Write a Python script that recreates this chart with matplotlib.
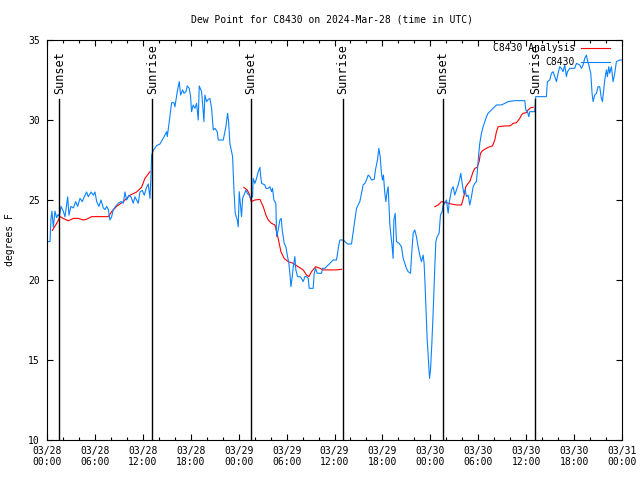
import numpy as np
import matplotlib
matplotlib.use("Agg")
import matplotlib.pyplot as plt
import matplotlib.transforms as mtransforms

plt.rcParams['font.family'] = ['DejaVu Sans Mono']
plt.rcParams['font.size'] = 7

# hours since 2024-03-28 00:00 UTC
obs_hours = [
    0.0, 0.38, 0.5, 0.62, 0.79, 1.0, 1.2, 1.4, 1.55, 1.75, 2.04, 2.25, 2.59, 2.75, 3.0, 3.3,
    3.59, 3.84, 4.13, 4.42, 4.67, 4.96, 5.17, 5.51, 5.8, 6.01, 6.22, 6.51, 6.76, 7.05, 7.26,
    7.47, 7.68, 7.88, 8.09, 8.3, 8.59, 8.93, 9.26, 9.55, 9.76, 9.97, 10.26, 10.51, 10.8,
    11.01, 11.22, 11.43, 11.64, 11.93, 12.18, 12.47, 12.68, 12.89, 13.02, 13.1, 13.31,
    13.73, 14.14, 14.43, 14.77,
    14.98, 15.06, 15.31, 15.6, 15.89, 16.02, 16.31, 16.56, 16.73, 16.98, 17.15, 17.4, 17.56,
    17.81, 17.98, 18.1, 18.31, 18.52, 18.73, 18.94, 19.06, 19.36, 19.48, 19.65, 19.77, 19.98,
    20.19, 20.4, 20.61, 20.82, 21.03, 21.32, 21.44, 22.07, 22.28, 22.4, 22.61, 22.74, 22.9,
    23.03, 23.24, 23.4, 23.57, 23.82, 23.95, 24.07, 24.24, 24.36, 24.49, 24.65, 24.91, 25.07,
    25.32, 25.49, 25.74, 25.82, 26.03, 26.24, 26.45, 26.66, 26.74, 26.87, 27.28, 27.41, 27.7,
    27.91, 28.12, 28.24, 28.41, 28.66, 28.75, 28.95, 29.08,
    29.16, 29.33, 29.45, 29.7, 29.91, 30.12, 30.29, 30.45, 30.54, 30.71, 30.83, 31.04, 31.16,
    31.37, 31.66, 31.87, 32.08, 32.29, 32.5, 32.71, 32.83, 33.33, 33.46, 33.63, 33.83, 34.38,
    34.5, 34.79, 35.0, 35.21, 35.42, 35.83, 36.25, 36.38, 36.54, 36.67, 37.09, 37.3, 37.63,
    38.13, 38.34, 38.55, 38.76, 38.97, 39.17, 39.38, 39.59, 39.8, 40.01, 40.22, 40.43, 40.63,
    40.97, 41.13, 41.38, 41.55, 41.72, 41.88, 42.01, 42.13, 42.3, 42.43, 42.59, 42.72, 42.93,
    43.22, 43.34,
    43.43, 43.6, 43.76, 44.1, 44.39, 44.6, 44.8, 45.01, 45.22, 45.52, 45.64, 45.85, 46.05,
    46.26, 46.47, 46.68, 46.89, 47.1, 47.22, 47.31, 47.43, 47.6, 47.77, 47.9, 48.02, 48.19,
    48.35, 48.56, 48.69, 48.85, 49.1, 49.27, 49.48, 49.6, 49.81, 50.02, 50.23, 50.35, 50.65,
    50.86, 51.06, 51.27, 51.48, 51.69, 51.81, 52.02, 52.19, 52.36, 52.52, 52.73, 52.94, 53.15,
    53.36, 53.57, 53.77, 53.9, 54.07, 54.19, 54.4, 54.61, 54.82, 55.03, 55.23, 55.65, 56.07,
    56.28, 56.9, 57.32, 57.74,
    58.57, 59.83, 59.95, 60.16, 60.33, 60.45, 61.07, 61.2, 62.53, 62.66, 62.95, 63.16, 63.37,
    63.58, 63.79, 64.0, 64.2, 64.41, 64.62, 64.83, 65.04, 65.17, 65.46, 66.08, 66.29, 66.71,
    66.92, 67.13, 67.33, 67.54, 67.67, 67.84, 68.09, 68.25, 68.38, 68.59, 68.8, 69.0, 69.21,
    69.42, 69.55, 69.71, 69.84, 70.05, 70.17, 70.34, 70.46, 70.67, 70.88, 71.09, 71.3, 71.71,
    72.0,
]
obs_dewpt = [
    22.4, 22.4, 23.85, 24.3, 23.3, 24.3, 23.9, 24.1, 23.95, 24.6, 24.3, 23.95, 25.2, 24.05, 24.6,
    24.5, 24.9, 24.6, 25.1, 24.9, 25.2, 25.5, 25.2, 25.5, 25.3, 25.5, 24.9, 24.6, 25.0, 24.5,
    24.4, 24.6, 24.4, 23.75, 23.95, 24.4, 24.6, 24.8, 24.9, 24.8, 25.5, 25.0, 25.3, 25.2, 24.8,
    25.2, 25.0, 24.8, 25.5, 25.6, 25.3, 25.8, 26.0, 25.1, 26.5, 27.8, 28.1, 28.4, 28.5, 28.75,
    29.06,
    29.27, 28.96, 29.9, 31.08, 31.08, 30.83, 31.77, 32.4, 31.56, 31.88, 31.67, 31.77, 32.13,
    31.98, 31.46, 30.52, 30.94, 30.73, 31.04, 30.0, 32.13, 31.77, 31.04, 29.9, 31.56, 31.15,
    31.29, 31.35, 30.73, 29.38, 29.48, 29.27, 28.75, 28.75, 29.27, 29.58, 30.42, 29.9, 28.54,
    28.23, 27.71, 25.73, 24.17, 23.75, 23.33, 25.52, 24.58, 23.96, 25.1, 25.3, 25.63, 25.42,
    25.3, 25.1, 25.2, 26.35, 26.04, 26.35, 26.77, 27.04, 26.56, 26.04, 25.94, 25.73, 25.73,
    25.83, 25.52, 25.73, 25.0, 24.79, 22.71, 23.13, 23.54,
    23.75, 23.85, 23.13, 22.29, 22.08, 21.46, 21.04, 20.21, 19.58, 20.21, 20.83, 21.46, 20.63,
    20.21, 20.21, 20.1, 19.9, 20.21, 20.21, 20.1, 19.48, 19.48, 20.42, 20.73, 20.42, 20.42,
    20.73, 20.73, 20.83, 20.94, 21.04, 21.25, 21.25, 21.67, 22.19, 22.5, 22.5, 22.4, 22.25,
    22.25, 23.02, 23.75, 24.48, 24.69, 24.9, 25.42, 25.94, 26.04, 26.25, 26.56, 26.46, 26.25,
    26.29, 26.88, 27.5, 28.23, 27.71, 26.67, 26.25, 26.56, 25.42, 24.9, 25.52, 25.83, 23.44,
    22.08, 21.35,
    23.75, 24.17, 22.4, 22.29, 22.08, 21.35, 21.04, 20.73, 20.52, 20.42, 21.46, 22.92, 23.13,
    22.71, 22.08, 21.56, 21.15, 21.56, 21.04, 20.1, 18.54, 16.35, 14.9, 13.85, 14.38, 16.04,
    17.92, 20.83, 22.4, 22.71, 22.92, 24.06, 24.27, 24.69, 24.79, 25.0, 24.17, 24.79, 25.63,
    25.83, 25.31, 25.63, 25.94, 26.35, 26.67, 25.94, 25.42, 25.63, 25.21, 25.31, 24.69, 25.21,
    25.83, 26.04, 26.15, 26.88, 27.92, 28.54, 29.17, 29.58, 29.9, 30.21, 30.42, 30.63, 30.83,
    30.94, 30.94, 31.04, 31.15,
    31.21, 31.21, 30.63, 30.52, 30.21, 30.52, 30.52, 31.46, 31.46, 32.4, 32.5, 32.92, 33.02,
    32.71, 32.4, 32.92, 33.33, 33.23, 33.02, 33.44, 32.71, 33.02, 33.23, 33.23, 33.54, 33.44,
    33.23, 33.44, 33.85, 34.06, 33.75, 33.44, 32.92, 31.67, 31.15, 31.56, 31.67, 32.08, 32.08,
    31.35, 31.15, 31.88, 32.5, 33.13, 32.71, 33.33, 32.92, 33.33, 32.4, 32.92, 33.65, 33.75,
    33.75,
]

# analysis series, three separate pieces (NaN breaks the line)
ana_hours = [
    0.67, 1.21, 1.63, 2.04, 2.67, 3.3, 3.92, 4.55, 4.96, 5.59, 7.68, 8.09, 8.72, 9.55, 10.39,
    11.22, 11.85, 12.26, 12.89, 12.95,
    24.65, 25.07, 25.32, 25.57, 26.03, 26.66, 27.08, 27.41, 27.7, 28.12, 28.54, 28.95, 29.29,
    29.7, 30.2, 30.83, 31.45, 32.08, 32.5, 32.79, 33.12, 33.63, 34.17, 34.58, 36.25, 36.88,
    36.9,
    48.56, 48.98, 49.39, 50.02, 50.65, 51.27, 51.9, 52.19, 52.44, 52.73, 52.94, 53.15, 53.36,
    53.57, 53.86, 54.11, 54.28, 54.53, 54.82, 55.23, 55.78, 56.07, 56.28, 56.49, 57.32, 57.95,
    58.15, 58.36, 58.78, 59.2, 59.41, 59.62, 60.04, 60.24, 60.58, 60.87,
]
ana_dewpt = [
    23.1, 23.54, 23.96, 23.85, 23.7, 23.85, 23.85, 23.75, 23.8, 23.96, 23.96, 24.27, 24.6, 24.9,
    25.3, 25.5, 25.8, 26.35, 26.77, np.nan,
    25.79, 25.63, 25.38, 24.9, 25.0, 25.04, 24.58, 24.06, 23.75, 23.54, 23.44, 22.6, 21.77,
    21.35, 21.15, 21.04, 20.83, 20.63, 20.31, 20.21, 20.52, 20.83, 20.73, 20.63, 20.63, 20.67,
    np.nan,
    24.58, 24.69, 24.9, 24.83, 24.75, 24.69, 24.69, 25.21, 25.83, 26.04, 26.15, 26.46, 26.77,
    26.98, 27.04, 27.4, 27.92, 28.08, 28.17, 28.29, 28.38, 28.75, 29.27, 29.58, 29.63, 29.63,
    29.69, 29.79, 29.83, 30.1, 30.31, 30.42, 30.46, 30.63, 30.77, 30.79,
]

sunset_hours = [1.55, 25.57, 49.6]
sunrise_hours = [13.18, 37.09, 61.14]

tick_hours = list(range(0, 73, 6))
tick_labels = ['03/28\n00:00', '03/28\n06:00', '03/28\n12:00', '03/28\n18:00',
               '03/29\n00:00', '03/29\n06:00', '03/29\n12:00', '03/29\n18:00',
               '03/30\n00:00', '03/30\n06:00', '03/30\n12:00', '03/30\n18:00',
               '03/31\n00:00']

blue = '#0a82ff'
red = '#ff0000'

fig = plt.figure(figsize=(6.4, 4.8), dpi=100)
ax = fig.add_axes([47/640, 40/480, 575/640, 400/480])

ax.plot(ana_hours, ana_dewpt, color=red, lw=0.8)
ax.plot(obs_hours, obs_dewpt, color=blue, lw=0.8)

trans = mtransforms.blended_transform_factory(ax.transData, ax.transAxes)
for name, hrs in [('Sunset', sunset_hours), ('Sunrise', sunrise_hours)]:
    for h in hrs:
        ax.plot([h, h], [0, 0.8525], color='black', lw=1.0, transform=trans)
        ax.text(h, 0.864, name, rotation=90, ha='center', va='bottom',
                fontsize=8.5, transform=trans)

ax.set_xlim(0, 72)
ax.set_ylim(10, 35)
ax.set_xticks(tick_hours)
ax.set_xticklabels(tick_labels)
ax.set_xticks(range(0, 73, 2), minor=True)
ax.set_yticks(range(10, 36, 5))
ax.tick_params(direction='in', top=True, right=True, length=4, width=0.8, pad=5)
ax.tick_params(axis='x', which='minor', direction='in', top=True, length=2.5, width=0.8)
ax.tick_params(axis='x', pad=4)
for s in ax.spines.values():
    s.set_linewidth(0.8)

# legend (gnuplot style, text right-aligned with sample line after)
ax.text(0.918, 0.98, 'C8430 Analysis', ha='right', va='center', transform=ax.transAxes)
ax.plot([0.929, 0.979], [0.98, 0.98], color=red, lw=0.8, transform=ax.transAxes)
ax.text(0.918, 0.945, 'C8430', ha='right', va='center', transform=ax.transAxes)
ax.plot([0.929, 0.979], [0.945, 0.945], color=blue, lw=0.8, transform=ax.transAxes)

fig.text(332/640, 1 - 20/480, 'Dew Point for C8430 on 2024-Mar-28 (time in UTC)',
         ha='center', va='center')
fig.text(10/640, 0.5, 'degrees F', rotation=90, ha='center', va='center')

fig.savefig('out.png', dpi=100)
